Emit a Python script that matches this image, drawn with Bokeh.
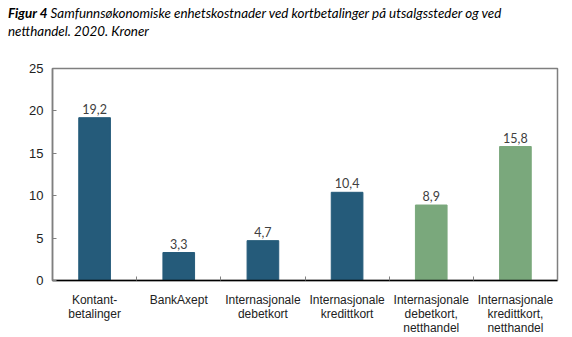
from bokeh.plotting import figure
from bokeh.models import ColumnDataSource, FixedTicker, Range1d, Div
from bokeh.layouts import column
from bokeh.core.properties import value
from bokeh.embed import file_html
from bokeh.resources import INLINE

title_bold = "Figur 4"
title_rest_1 = "Samfunnsøkonomiske enhetskostnader ved kortbetalinger på utsalgssteder og ved"
title_rest_2 = "netthandel. 2020. Kroner"

categories = ["Kontant-\nbetalinger", "BankAxept", "Internasjonale\ndebetkort",
              "Internasjonale\nkredittkort", "Internasjonale\ndebetkort,\nnetthandel",
              "Internasjonale\nkredittkort,\nnetthandel"]
values = [19.2, 3.3, 4.7, 10.4, 8.9, 15.8]
value_labels = ["19,2", "3,3", "4,7", "10,4", "8,9", "15,8"]
colors = ["#255b7a", "#255b7a", "#255b7a", "#255b7a", "#7aa87c", "#7aa87c"]
y_ticks = [0, 5, 10, 15, 20, 25]

DIV_H = 44

xs = [i + 0.5 for i in range(len(categories))]
src = ColumnDataSource(dict(x=xs, top=values, lab=value_labels, color=colors))

p = figure(width=572, height=337 - DIV_H, output_backend="svg", toolbar_location=None,
           x_range=Range1d(0, len(categories)), y_range=Range1d(0, 25),
           min_border_left=52, min_border_right=15, min_border_top=68 - DIV_H,
           min_border_bottom=57)
p.background_fill_color = "white"
p.border_fill_color = "white"
p.outline_line_color = "#7f7f7f"
p.outline_line_width = 1.5
p.grid.visible = False

p.vbar(x="x", top="top", width=0.376, color="color", source=src)
p.text(x="x", y="top", text="lab", source=src, text_align="center", text_baseline="bottom",
       y_offset=-4, text_font=value("Lato"), text_font_size="12.5px", text_color="#404040")

xa = p.xaxis[0]
xa.ticker = FixedTicker(ticks=xs, minor_ticks=list(range(len(categories) + 1)))
xa.major_label_overrides = {x: c for x, c in zip(xs, categories)}
xa.major_tick_line_color = None
xa.minor_tick_in = 4
xa.minor_tick_out = 0
xa.minor_tick_line_color = "#808080"
xa.axis_line_color = "black"
xa.axis_line_width = 1.5
xa.major_label_text_font = "Liberation Sans"
xa.major_label_text_font_size = "12px"
xa.major_label_text_color = "#222222"
xa.major_label_text_line_height = 1.0
xa.major_label_standoff = 6

ya = p.yaxis[0]
ya.ticker = FixedTicker(ticks=y_ticks, minor_ticks=[])
ya.major_tick_in = 4
ya.major_tick_out = 0
ya.major_tick_line_color = "#808080"
ya.axis_line_color = "#7f7f7f"
ya.axis_line_width = 1.5
ya.major_label_text_font = "Liberation Sans"
ya.major_label_text_font_size = "13px"
ya.major_label_text_color = "#222222"
ya.major_label_standoff = 9

html = (f"<b>{title_bold}</b> {title_rest_1}<br>{title_rest_2}")
div = Div(text=html, width=572, height=DIV_H, margin=0,
          styles={"font-family": "Lato", "font-size": "13.4px", "font-style": "italic",
                  "line-height": "18px", "padding-left": "8px", "padding-top": "4px",
                  "white-space": "nowrap", "color": "black", "box-sizing": "border-box"})

layout = column(div, p, spacing=0, margin=0)
open("out.html", "w").write(file_html(layout, INLINE))
